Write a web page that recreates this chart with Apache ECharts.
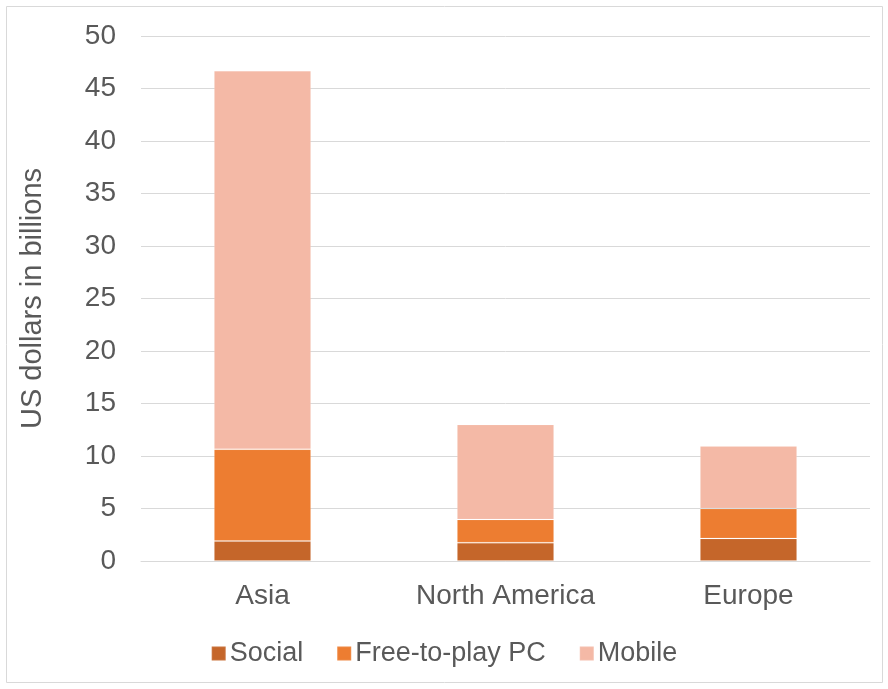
<!DOCTYPE html>
<html><head><meta charset="utf-8">
<script src="https://cdn.jsdelivr.net/npm/echarts@6/dist/echarts.min.js"></script>
<style>html,body{margin:0;padding:0;background:#fff}#c{width:888px;height:689px}</style>
</head><body><div id="c"></div>
<script>
const categories = ["Asia", "North America", "Europe"];
const social = [1.9, 1.75, 2.15];
const freeToPlayPC = [8.75, 2.2, 2.85];
const mobile = [36.05, 9.05, 5.95];
const yTicks = [0, 5, 10, 15, 20, 25, 30, 35, 40, 45, 50];

const chart = echarts.init(document.getElementById('c'), null, {renderer: 'canvas'});
const font = 'Arial, "Liberation Sans", sans-serif';
const mk = (name, data, color) => ({
  name, type: 'bar', stack: 'total', data, barWidth: '40%',
  itemStyle: {color, borderColor: 'rgba(255,255,255,0.1)', borderWidth: 1},
  emphasis: {disabled: true}
});
chart.setOption({
  animation: false,
  graphic: [{type: 'rect', shape: {x: 6.5, y: 6.5, width: 876, height: 676},
    style: {fill: 'none', stroke: '#D9D9D9', lineWidth: 1}}],
  grid: {left: 141, right: 18, top: 36, bottom: 128, containLabel: false},
  legend: {
    top: 635, left: 'center', itemWidth: 14, itemHeight: 14, itemGap: 33,
    icon: 'rect',
    textStyle: {fontFamily: font, fontSize: 27, color: '#595959', padding: [0, 0, 0, -1]},
    data: ['Social', 'Free-to-play PC', 'Mobile']
  },
  xAxis: {
    type: 'category', data: categories,
    axisLine: {lineStyle: {color: '#D9D9D9'}}, axisTick: {show: false},
    axisLabel: {fontFamily: font, fontSize: 28, color: '#595959', margin: 21}
  },
  yAxis: {
    type: 'value', min: yTicks[0], max: yTicks[yTicks.length - 1], interval: 5,
    name: 'US dollars in billions', nameLocation: 'middle', nameGap: 94,
    nameTextStyle: {fontFamily: font, fontSize: 29, color: '#595959'},
    axisLine: {show: false}, axisTick: {show: false},
    axisLabel: {fontFamily: font, fontSize: 28, color: '#595959', margin: 25},
    splitLine: {lineStyle: {color: '#D9D9D9', width: 1}}
  },
  series: [
    mk('Social', social, '#C5662A'),
    mk('Free-to-play PC', freeToPlayPC, '#ED7D31'),
    mk('Mobile', mobile, '#F4B9A6')
  ]
});
</script></body></html>
